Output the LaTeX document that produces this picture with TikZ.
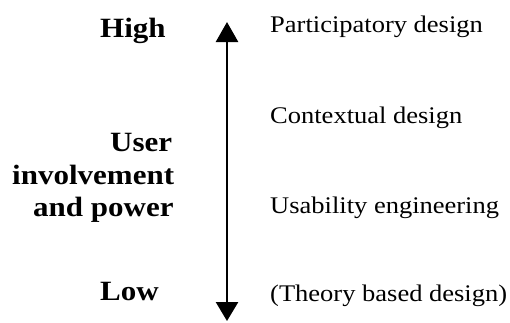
\documentclass[tikz,border=0pt]{standalone}
\usepackage{fontspec}
\setmainfont{Liberation Serif}
\usetikzlibrary{arrows.meta}
\newcommand\squish[1]{\scalebox{1}[0.9]{#1}}
\tikzset{
  method/.style={anchor=base west, inner sep=0pt, font=\fontsize{26.5}{30}\selectfont},
  level/.style={anchor=base west, inner sep=0pt, font=\fontsize{31}{34}\selectfont\bfseries},
  scale arrow/.style={line width=2.6pt,
    {Triangle[length=20pt,width=22pt]}-{Triangle[length=19pt,width=22pt]}}
}
\begin{document}
\begin{tikzpicture}[x=1pt,y=-1pt]
  \useasboundingbox (0,0) rectangle (510,322);
  % vertical scale
  \coordinate (top) at (227,22);
  \coordinate (bottom) at (227,321);
  \draw[scale arrow] (top) -- (bottom);
  % left-hand labels
  \node[level] (high) at (100,37) {\squish{High}};
  \node[level] (user) at (110,151) {\squish{User}};
  \node[level] (involve) at (12,184) {\squish{involvement}};
  \node[level] (power) at (33,216) {\squish{and power}};
  \node[level] (low) at (100,300) {\squish{Low}};
  % design approaches
  \node[method] (part) at (270,32) {\squish{Participatory design}};
  \node[method] (ctx) at (270,123) {\squish{Contextual design}};
  \node[method] (usab) at (270,213) {\squish{Usability engineering}};
  \node[method] (theory) at (270,301) {\squish{(Theory based design)}};
\end{tikzpicture}
\end{document}
